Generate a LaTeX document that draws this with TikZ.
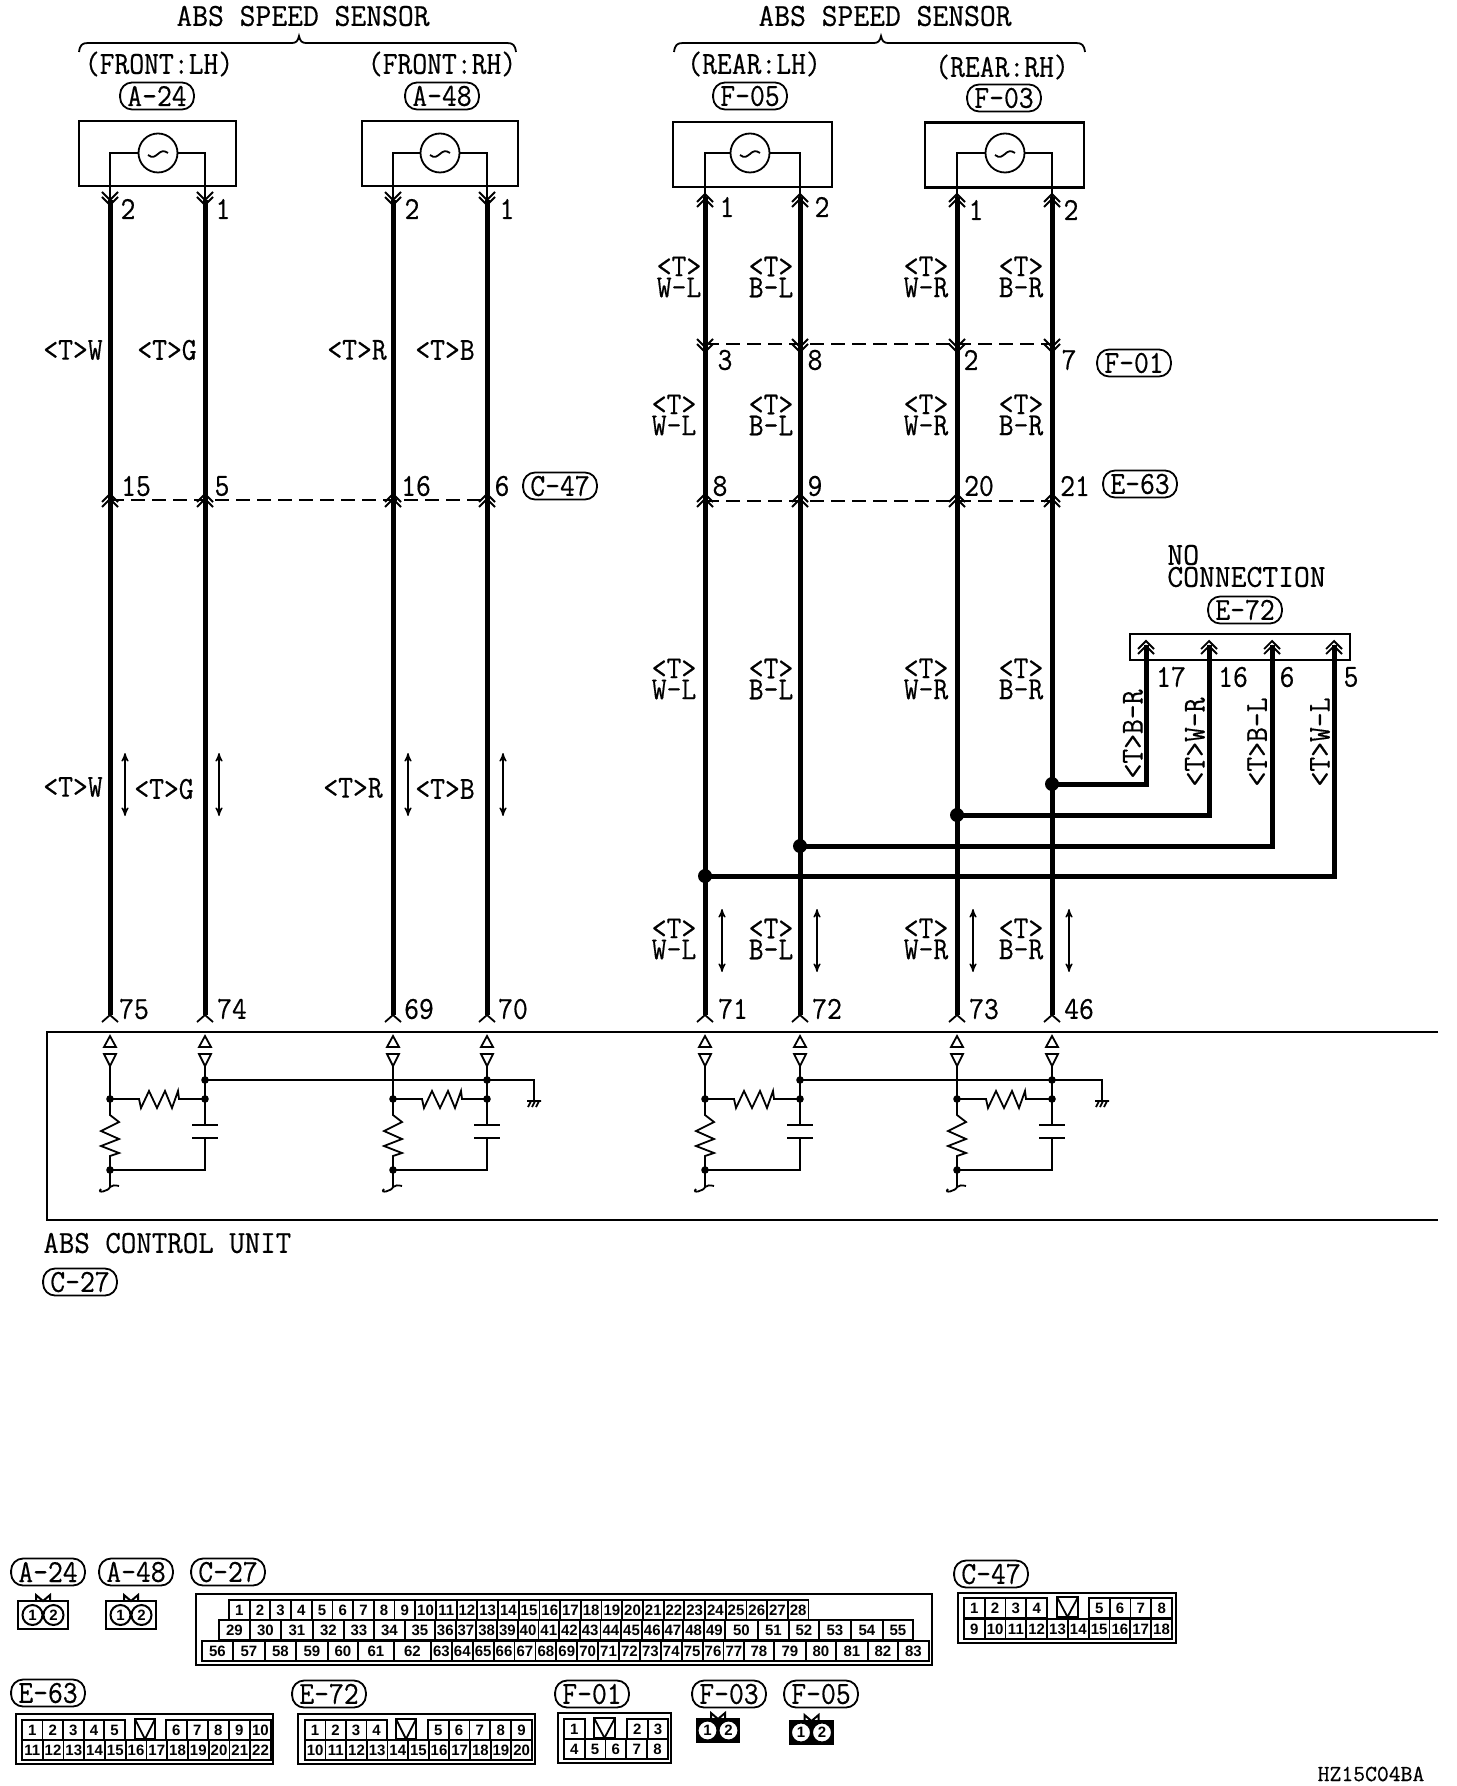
\documentclass[tikz,border=0pt]{standalone}
\usepackage{fontspec}
\setsansfont{Liberation Sans}
\setmonofont[FakeBold=.5]{Latin Modern Mono}
\usetikzlibrary{arrows,positioning,calc}
\tikzset{
	wtext/.style={font=\ttfamily\fontsize{16}{10.5}\selectfont,xscale=#1,inner sep=0pt,align=center},
	wtext/.default=.9,
	badge/.style={wtext,draw,line width=.9pt,rounded corners=6pt,minimum width=41pt,minimum height=13.5pt},
	wire/.style={line width=2.5pt},
	thinline/.style={line width=.9pt},
	dashline/.style={line width=.9pt,dash pattern=on 7pt off 3.5pt},
	dirline/.style={line width=.6pt,stealth'-stealth'},
	jdot/.style={circle,fill=black,inner sep=0pt,minimum size=7pt},
	sdot/.style={circle,fill=black,inner sep=0pt,minimum size=3.8pt},
	sensorbox/.style={draw,line width=1.1pt,inner sep=0pt,minimum height=32.5pt},
	sigcircle/.style={circle,draw,line width=.9pt,fill=white,inner sep=0pt,minimum size=19.5pt},
	pincell/.style={draw,line width=.9pt,anchor=north west,inner sep=0pt,minimum height=10pt,font=\sffamily\bfseries\fontsize{7.5}{8}\selectfont},
	pincirc/.style={circle,draw,line width=1pt,fill=white,text=black,inner sep=0pt,minimum size=10pt,font=\sffamily\bfseries\fontsize{7.5}{8}\selectfont},
	pics/chevup/.style={code={\draw[thinline] (-8,8)--(0,0)--(8,8) (-8,13)--(0,5)--(8,13);}},
	pics/chevdn/.style={code={\draw[thinline] (-8,-8)--(0,0)--(8,-8) (-8,-13)--(0,-5)--(8,-13);}},
	pics/chevone/.style={code={\draw[thinline] (-8,7)--(0,0)--(8,7);}},
	pics/tripair/.style={code={\draw[thinline] (-6,11)--(0,0)--(6,11)--cycle (-6,18)--(6,18)--(0,30)--cycle;}},
	pics/gndmark/.style={code={\draw[thinline] (-7,0)--(7,0) (-3,0)--(-6,6) (1,0)--(-2,6) (5,0)--(2,6);}},
}
\newcommand{\cellrow}[6]{\foreach \n in {#2,...,#3}{\pgfmathsetmacro\xx{#4+(\n-#2)*#6}\node[pincell,minimum width={#6*.5pt}] (#1n\n) at (\xx,#5) {\n};}}
\newcommand{\pinnotch}[3]{\draw[thinline] (#1,#3)--(#2,#3)--(#2,#3+20)--(#1,#3+20)--cycle (#1,#3)--({(#1+#2)/2},#3+20)--(#2,#3);}
\newcommand{\twopin}[6]{
	\draw[line width=1.2pt,#6] (#2,#3) rectangle ++(#4,#5);
	\draw[line width=1pt] (#2+#4/2-7,#3)--(#2+#4/2-7,#3-6)--(#2+#4/2,#3)--(#2+#4/2+7,#3-6)--(#2+#4/2+7,#3);
	\node[pincirc] (#1a) at (#2+#4/2-10.5,#3+#5/2) {1};
	\node[pincirc] (#1b) at (#2+#4/2+10.5,#3+#5/2) {2};
}
\begin{document}
\begin{tikzpicture}[x=.5pt,y=-.5pt]
	\useasboundingbox (0,0) rectangle (1456,1786);
	\node[wtext=.96] (title1) at (303,16) {ABS SPEED SENSOR};
	\node[wtext=.96] (title2) at (885,16) {ABS SPEED SENSOR};
	\draw[thinline] (79,52) .. controls (80,45) and (82,43) .. (88,43) -- (292,43) .. controls (296,43) and (298,41) .. (299,36) .. controls (300,41) and (302,43) .. (306,43) -- (507,43) .. controls (513,43) and (515,45) .. (516,52);
	\draw[thinline] (674,52) .. controls (675,45) and (677,43) .. (683,43) -- (874,43) .. controls (878,43) and (880,41) .. (881,36) .. controls (882,41) and (884,43) .. (888,43) -- (1076,43) .. controls (1082,43) and (1084,45) .. (1085,52);
	\foreach \n/\x/\y/\t in {fl/159/64/{(FRONT:LH)},fr/442/64/{(FRONT:RH)},rl/754/64/{(REAR:LH)},rr/1002/67/{(REAR:RH)}}
		\node[wtext] (side\n) at (\x,\y) {\t};
	\foreach \n/\x/\y in {A-24/157/96,A-48/442/96,F-05/750/96,F-03/1004/98,C-47/560/486,F-01/1134/363,E-63/1140/484,E-72/1245/610,C-27/80/1282}
		\node[badge] (tag\n) at (\x,\y) {\n};

	% sensors
	\foreach \n/\x/\y/\w in {sa/157.5/153.5/157,sb/440/153.5/156,sc/752.5/154.5/159,sd/1004.5/155/159}
		\node[sensorbox,minimum width={\w*.5pt}] (box\n) at (\x,\y) {};
	\foreach \n/\x in {sa/158,sb/440,sc/750,sd/1005}{
		\node[sigcircle] (sig\n) at (\x,153) {};
		\draw[thinline] (\x-10,155) .. controls (\x-5,159) and (\x-3,156) .. (\x,154) .. controls (\x+3,151) and (\x+6,150) .. (\x+10,153);
	}

	% wires
	\foreach \n/\x/\yt in {a/110/200,b/205/200,c/393/200,d/487/200,e/705/197,f/800/197,g/957/197,h/1052/197}{
		\coordinate (top\n) at (\x,\yt);
		\coordinate (bot\n) at (\x,1015);
		\draw[wire] (top\n)--(bot\n);
		\pic at (bot\n) {chevone};
	}
	\draw[thinline] (sigsa.west) -| (topa);
	\draw[thinline] (sigsa.east) -| (topb);
	\draw[thinline] (sigsb.west) -| (topc);
	\draw[thinline] (sigsb.east) -| (topd);
	\draw[thinline] (sigsc.west) -| (tope);
	\draw[thinline] (sigsc.east) -| (topf);
	\draw[thinline] (sigsd.west) -| (topg);
	\draw[thinline] (sigsd.east) -| (toph);
	\foreach \x in {110,205,393,487}
		\pic at (\x,205) {chevdn};
	\foreach \x in {705,800,957,1052}{
		\pic at (\x,194) {chevup};
		\pic at (\x,494) {chevup};
		\pic at (\x,352) {chevdn};
	}
	\foreach \x in {110,205,393,487}
		\pic at (\x,494) {chevup};
	\coordinate (c47a) at (110,500);
	\coordinate (c47b) at (487,500);
	\coordinate (e63a) at (705,501);
	\coordinate (e63b) at (1052,501);
	\coordinate (f01a) at (705,344);
	\coordinate (f01b) at (1052,344);
	\draw[dashline] (c47a)--(c47b);
	\draw[dashline] (e63a)--(e63b);
	\draw[dashline] (f01a)--(f01b);

	% pin numbers
	\foreach \n/\x/\y/\t in {p1/128/209/2,p2/223/209/1,p3/412/209/2,p4/507/209/1,p5/727/207/1,p6/822/207/2,p7/976/210/1,p8/1071/210/2,
		p9/136/486/15,p10/222/486/5,p11/416/486/16,p12/502/486/6,
		p13/725/360/3,p14/815/360/8,p15/971/360/2,p16/1069/360/7,
		p17/720/486/8,p18/815/486/9,p19/979/486/20,p20/1075/486/21,
		p21/1171/677/17,p22/1233/677/16,p23/1287/677/6,p24/1351/677/5,
		p25/134/1009/75,p26/232/1009/74,p27/419/1009/69,p28/513/1009/70,
		p29/733/1009/71,p30/827/1009/72,p31/984/1009/73,p32/1079/1009/46}
		\node[wtext] (\n) at (\x,\y) {\t};

	% wire colours
	\foreach \n/\x/\y/\t in {t1/73/350/W,t2/167/350/G,t3/357/350/R,t4/445/350/B,t5/73/787/W,t6/164/789/G,t7/353/788/R,t8/445/789/B}
		\node[wtext] (\n) at (\x,\y) {<T>\t};
	\foreach \n/\y/\xw in {ra/277/679,rb/415/674,rc/679/674,rd/939/674}
		\foreach \m/\x/\t in {w/\xw/W-L,x/771/B-L,y/926/W-R,z/1021/B-R}
			\node[wtext] (\n\m) at (\x,\y) {<T>\\\t};
	\foreach \n/\x/\y/\t in {v1/1133/734/B-R,v2/1195/742/W-R,v3/1257/742/B-L,v4/1320/742/W-L}
		\node[rotate=90,wtext] (\n) at (\x,\y) {<T>\t};
	\foreach \x in {125,219,408,503}
		\draw[dirline] (\x,753)--(\x,816);
	\foreach \x in {722,817,973,1069}
		\draw[dirline] (\x,909)--(\x,972);

	% no connection
	\node[wtext=.96,anchor=west] (noc1) at (1167,555) {NO};
	\node[wtext=.96,anchor=west] (noc2) at (1167,577) {CONNECTION};
	\node[draw,thinline,inner sep=0pt,minimum width=110pt,minimum height=13pt] (e72box) at (1240,647) {};
	\foreach \n/\x in {i/1146,j/1209,k/1272,l/1334}{
		\coordinate (pin\n) at (\x,645);
		\pic at (\x,641) {chevup};
	}
	\node[jdot] (jh) at (1052,784) {};
	\node[jdot] (jg) at (957,815) {};
	\node[jdot] (jf) at (800,846) {};
	\node[jdot] (je) at (705,876) {};
	\draw[wire] (jh.center) -| (pini);
	\draw[wire] (jg.center) -| (pinj);
	\draw[wire] (jf.center) -| (pink);
	\draw[wire] (je.center) -| (pinl);

	% control unit
	\coordinate (cua) at (1438,1032);
	\coordinate (cub) at (47,1032);
	\coordinate (cuc) at (47,1220);
	\coordinate (cud) at (1438,1220);
	\draw[line width=1.1pt] (cua)--(cub)--(cuc)--(cud);
	\begin{scope}[shift={(0,-2)}]
	\foreach \p/\l/\r in {ua/110/205,ub/393/487,uc/705/800,ud/957/1052}{
		\pic at (\l,1038) {tripair};
		\pic at (\r,1038) {tripair};
		\node[sdot] (\p a) at (\l,1101) {};
		\node[sdot] (\p b) at (\r,1101) {};
		\node[sdot] (\p c) at (\l,1172) {};
		\node[sdot] (\p d) at (\r,1082) {};
		\draw[thinline] (\l,1068)--(\p a.center)--++(29,0)--++(2,9)--++(8,-17)--++(8,17)--++(8,-17)--++(7,17)--++(6,-17)--++(1,8)--(\p b.center);
		\draw[thinline] (\p a.center)--++(0,16)--++(9,7)--++(-18,9)--++(18,8)--++(-18,7)--++(18,7)--++(-9,3)--(\p c.center)--++(0,17) .. controls ++(-1,4) and ++(-5,5) .. ++(-9,2);
		\draw[thinline] (\l,1189) .. controls (\l+2,1187) and (\l+5,1187) .. (\l+9,1188);
		\draw[thinline] (\r,1068)--(\p d.center)--(\p b.center)--(\r,1127);
		\draw[line width=1.2pt] (\r-13,1127)--(\r+13,1127) (\r-13,1140)--(\r+13,1140);
		\draw[thinline] (\r,1140)--(\r,1172)--(\p c.center);
	}
	\coordinate (gnda) at (534,1103);
	\coordinate (gndb) at (1102,1103);
	\draw[thinline] (uad.center) -| (gnda);
	\draw[thinline] (ucd.center) -| (gndb);
	\pic at (gnda) {gndmark};
	\pic at (gndb) {gndmark};
	\end{scope}
	\node[wtext=.94,anchor=west] (cuname) at (43,1243) {ABS CONTROL UNIT};

	% connector views
	\begin{scope}[shift={(0,-3)}]
	\foreach \n/\x/\y in {A-24/48/1575,A-48/136/1575,C-27/228/1575,C-47/991/1577,E-63/48/1696,E-72/329/1697,F-01/592/1697,F-03/729/1697,F-05/821/1697}
		\node[badge] (view\n) at (\x,\y) {\n};
	\twopin{pa}{18}{1604}{50}{28}{thinline}
	\twopin{pb}{106}{1604}{50}{28}{thinline}
	\twopin{pc}{697}{1722}{42}{23}{fill=black}
	\twopin{pd}{790}{1724}{43}{23}{fill=black}

	\draw[line width=1.1pt] (196,1597) rectangle (932,1668);
	\cellrow{ca}{1}{28}{228}{1602}{20.7}
	\foreach \n/\l/\r in {29/218/249,30/249/280,31/280/312,32/312/343,33/343/373,34/373/404,35/404/434}
		\node[pincell,minimum width={(\r-\l)*.5pt}] (can\n) at (\l,1622) {\n};
	\cellrow{ca}{36}{49}{434}{1622}{20.7}
	\foreach \n/\l/\r in {50/724/757,51/757/788,52/788/818,53/818/850,54/850/882,55/882/912}
		\node[pincell,minimum width={(\r-\l)*.5pt}] (can\n) at (\l,1622) {\n};
	\foreach \n/\l/\r in {56/201/232,57/232/264,58/264/295,59/295/327,60/327/357,61/357/393,62/393/430}
		\node[pincell,minimum width={(\r-\l)*.5pt}] (can\n) at (\l,1643) {\n};
	\cellrow{ca}{63}{77}{430}{1643}{20.9}
	\foreach \n/\l/\r in {78/743/773,79/773/805,80/805/835,81/835/867,82/867/897,83/897/928}
		\node[pincell,minimum width={(\r-\l)*.5pt}] (can\n) at (\l,1643) {\n};

	\draw[line width=1.1pt] (958,1596) rectangle (1176,1646);
	\cellrow{cb}{1}{4}{963}{1600}{20.8}
	\pinnotch{1057}{1078}{1600}
	\cellrow{cb}{5}{8}{1088}{1600}{20.8}
	\cellrow{cb}{9}{18}{963}{1621}{20.8}

	\draw[line width=1.1pt] (16,1717) rectangle (273,1767);
	\cellrow{cc}{1}{5}{21}{1722}{20.6}
	\pinnotch{135}{155}{1722}
	\cellrow{cc}{6}{10}{165}{1722}{21}
	\cellrow{cc}{11}{22}{21}{1742}{20.75}

	\draw[line width=1.1pt] (298,1717) rectangle (535,1767);
	\cellrow{cd}{1}{4}{304}{1722}{20.5}
	\pinnotch{396}{416}{1722}
	\cellrow{cd}{5}{9}{427}{1722}{20.8}
	\cellrow{cd}{10}{20}{304}{1742}{20.64}

	\draw[line width=1.1pt] (558,1716) rectangle (671,1766);
	\cellrow{ce}{1}{1}{563}{1721}{21}
	\pinnotch{594}{615}{1721}
	\cellrow{ce}{2}{3}{626}{1721}{20.7}
	\cellrow{ce}{4}{8}{563}{1741}{20.8}
	\end{scope}

	\node[font=\ttfamily\bfseries\fontsize{11.5}{11.5}\selectfont,inner sep=0pt] (code) at (1371,1774) {HZ15C04BA};
\end{tikzpicture}
\end{document}
